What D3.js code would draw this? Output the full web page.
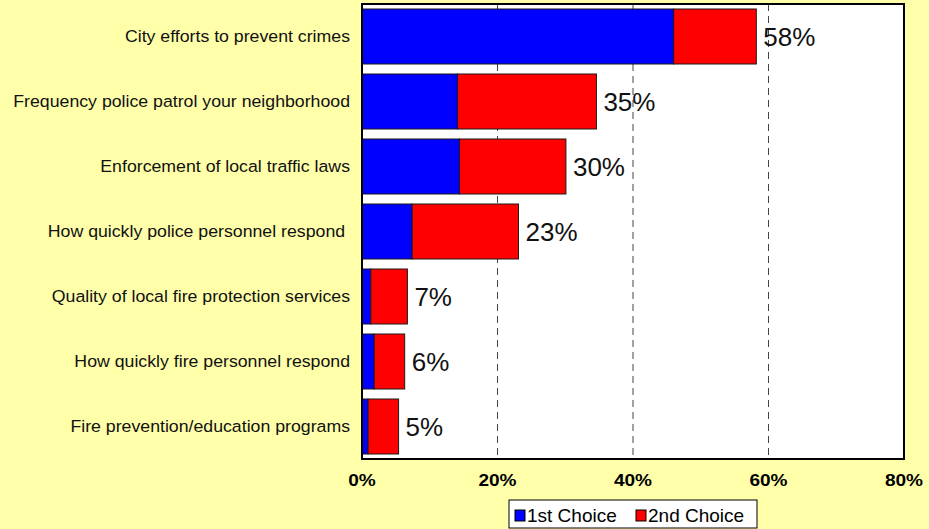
<!DOCTYPE html>
<html>
<head>
<meta charset="utf-8">
<script src="https://cdn.jsdelivr.net/npm/d3@7"></script>
<style>
  html, body { margin: 0; padding: 0; background: #FFFFAA; }
  svg { display: block; }
  text { font-family: "Liberation Sans", Arial, sans-serif; }
</style>
</head>
<body>
<svg id="chart" width="929" height="529"></svg>
<script>
// Survey: most important services (share naming each as 1st / 2nd choice)
const categories = [
  "City efforts to prevent crimes",
  "Frequency police patrol your neighborhood",
  "Enforcement of local traffic laws",
  "How quickly police personnel respond ",
  "Quality of local fire protection services",
  "How quickly fire personnel respond",
  "Fire prevention/education programs"
];
const firstChoice  = [46.0, 14.1, 14.4, 7.4, 1.3, 1.8, 0.9];
const secondChoice = [12.2, 20.5, 15.7, 15.7, 5.4, 4.5, 4.5];
const seriesNames  = ["1st Choice", "2nd Choice"];
const seriesColors = ["#0000FF", "#FF0000"];
const tickValues   = [0, 20, 40, 60, 80];

const svg = d3.select("#chart");
const plot = { left: 362, right: 904, top: 4, bottom: 459 };

const x = d3.scaleLinear().domain([0, 80]).range([plot.left, plot.right]);
const y = d3.scaleBand().domain(categories).range([plot.top, plot.bottom])
  .paddingInner(10 / 65).paddingOuter(5 / 65);

const rows = categories.map((c, i) => ({
  category: c, "1st Choice": firstChoice[i], "2nd Choice": secondChoice[i]
}));
const stacked = d3.stack().keys(seriesNames)(rows);

// plot area background
svg.append("rect")
  .attr("x", plot.left).attr("y", plot.top)
  .attr("width", plot.right - plot.left).attr("height", plot.bottom - plot.top)
  .attr("fill", "#FFFFFF");

// dashed gridlines
svg.append("g").selectAll("line")
  .data(tickValues.filter(v => v > 0 && v < 80))
  .join("line")
  .attr("x1", d => x(d)).attr("x2", d => x(d))
  .attr("y1", plot.top).attr("y2", plot.bottom)
  .attr("stroke", "#444444").attr("stroke-width", 1)
  .attr("stroke-dasharray", "7,5");

// stacked bars
svg.append("g").selectAll("g")
  .data(stacked)
  .join("g")
  .attr("fill", (d, i) => seriesColors[i])
  .selectAll("rect")
  .data(d => d)
  .join("rect")
  .attr("x", d => x(d[0]))
  .attr("y", d => y(d.data.category))
  .attr("width", d => x(d[1]) - x(d[0]))
  .attr("height", y.bandwidth())
  .attr("stroke", "#1a1a1a").attr("stroke-width", 1);

// total labels
const fmt = v => d3.format(".0f")(v) + "%";
svg.append("g").selectAll("text")
  .data(rows)
  .join("text")
  .attr("x", d => x(d["1st Choice"] + d["2nd Choice"]) + 7)
  .attr("y", d => y(d.category) + y.bandwidth() / 2)
  .attr("dy", "0.36em")
  .attr("font-size", 26)
  .attr("fill", "#111")
  .text(d => fmt(d["1st Choice"] + d["2nd Choice"]));

// plot area border
svg.append("rect")
  .attr("x", plot.left).attr("y", plot.top)
  .attr("width", plot.right - plot.left).attr("height", plot.bottom - plot.top)
  .attr("fill", "none").attr("stroke", "#000").attr("stroke-width", 2);

// category axis labels (slightly widened glyphs)
svg.append("g").selectAll("text")
  .data(categories)
  .join("text")
  .attr("transform", d => `translate(350,${y(d) + y.bandwidth() / 2}) scale(1.087,1)`)
  .attr("dy", "0.35em")
  .attr("text-anchor", "end")
  .attr("font-size", 16.3)
  .attr("fill", "#111")
  .style("white-space", "pre")
  .text(d => d);

// value axis
const xAxis = d3.axisBottom(x).tickValues(tickValues).tickFormat(d => d + "%").tickSize(0).tickPadding(0);
const ax = svg.append("g").attr("transform", `translate(0,${plot.bottom})`).call(xAxis);
ax.select(".domain").remove();
ax.selectAll("text").attr("y", 27.5).attr("dy", null)
  .attr("transform", "scale(1.19,1)")
  .attr("font-size", 16).attr("font-weight", "bold")
  .attr("fill", "#000").attr("font-family", "Liberation Sans, Arial, sans-serif");
ax.selectAll(".tick").attr("transform", d => `translate(${x(d)},0)`);

// legend
const lg = svg.append("g").attr("transform", "translate(509,500)");
lg.append("rect").attr("width", 248).attr("height", 28)
  .attr("fill", "#FFFFFF").attr("stroke", "#000").attr("stroke-width", 1);
const items = [{ name: seriesNames[0], x: 6 }, { name: seriesNames[1], x: 127 }];
items.forEach((it, i) => {
  lg.append("rect").attr("x", it.x).attr("y", 10).attr("width", 10).attr("height", 11)
    .attr("fill", seriesColors[i]).attr("stroke", "#000").attr("stroke-width", 1);
  lg.append("text").attr("x", it.x + 12).attr("y", 22)
    .attr("font-size", 19).attr("fill", "#000").text(it.name);
});
</script>
</body>
</html>
